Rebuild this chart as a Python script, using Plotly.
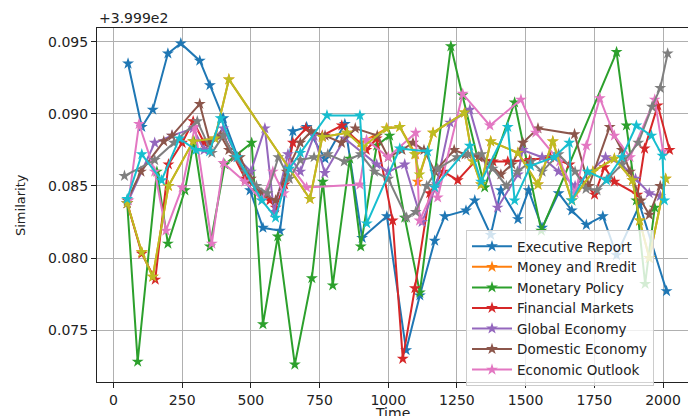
import plotly.graph_objects as go

# offset shown by the axis: +3.999e2
offset_text = "+3.999e2"

names = ["Executive Report", "Money and Rredit", "Monetary Policy", "Financial Markets",
         "Global Economy", "Domestic Economy", "Economic Outlook", "", "", ""]
colors = ["#1f77b4", "#ff7f0e", "#2ca02c", "#d62728", "#9467bd", "#8c564b",
          "#e377c2", "#7f7f7f", "#bcbd22", "#17becf"]

exec_x = [53, 103, 143, 198, 245, 314, 351, 400, 497, 544, 606, 653, 703, 770, 842, 905, 995,
          1065, 1115, 1169, 1206, 1283, 1315, 1373, 1410, 1472, 1511, 1560, 1620, 1668, 1721,
          1781, 1831, 1915, 2013]
exec_y = [.0935, .0891, .0903, .0942, .0949, .0937, .0920, .0897, .0847, .0821, .0819, .0888,
          .0891, .0869, .0893, .0814, .0829, .0736, .0774, .0812, .0829, .0833, .0840, .0816,
          .0847, .0827, .0847, .0821, .0845, .0833, .0823, .0829, .0802, .0837, .0777]

money_x = [50, 103, 143, 200, 290, 369, 420, 715, 760, 850, 900, 995, 1042, 1100, 1107, 1163,
           1278, 1309, 1338, 1373, 1472, 1545, 1599, 1668, 1745, 1823, 1889, 1915, 1950, 2010]
money_y = [.0838, .0804, .0787, .0850, .0881, .0883, .0924, .0841, .0884, .0887, .0880, .0890,
           .0891, .0872, .0853, .0887, .0901, .0867, .0851, .0881, .0873, .0851, .0881, .0840,
           .0860, .0869, .0854, .0826, .0800, .0855]

mon_x = [50, 88, 158, 198, 260, 293, 351, 405, 503, 544, 598, 660, 722, 762, 798, 860, 900,
         958, 1005, 1060, 1115, 1228, 1270, 1351, 1460, 1557, 1831, 1867, 1903, 1935, 1970]
mon_y = [.0838, .0728, .0860, .0810, .0847, .0881, .0808, .0865, .0880, .0754, .0815, .0726,
         .0786, .0853, .0781, .0869, .0808, .0878, .0885, .0828, .0776, .0947, .0913, .0849,
         .0908, .0819, .0943, .0892, .0840, .0782, .0835]

fin_x = [50, 103, 152, 200, 250, 290, 330, 400, 440, 480, 569, 590, 623, 653, 700, 760, 831,
         920, 958, 1016, 1053, 1097, 1151, 1200, 1253, 1330, 1381, 1435, 1515, 1590, 1660,
         1751, 1787, 1823, 1907, 1933, 1981, 2024]
fin_y = [.0838, .0803, .0785, .0865, .0880, .0895, .0880, .0885, .0870, .0855, .0840, .0835,
         .0851, .0880, .0890, .0885, .0892, .0875, .0883, .0826, .0730, .0779, .0845, .0860,
         .0854, .0870, .0867, .0867, .0868, .0870, .0865, .0844, .0863, .0853, .0844, .0876,
         .0906, .0875]

glob_x = [50, 150, 213, 290, 330, 400, 450, 500, 551, 584, 635, 680, 730, 769, 842, 958, 1000,
          1060, 1123, 1176, 1225, 1297, 1398, 1472, 1489, 1560, 1620, 1680, 1791, 1850, 1900,
          1950, 1990]
glob_y = [.0838, .0880, .0885, .0890, .0875, .0890, .0870, .0860, .0890, .0832, .0872, .0860,
          .0885, .0859, .0883, .0865, .0860, .0865, .0825, .0851, .0894, .0903, .0835, .0858,
          .0875, .0870, .0860, .0850, .0870, .0865, .0855, .0845, .0843]

dom_x = [50, 100, 183, 213, 314, 351, 390, 420, 460, 500, 540, 590, 630, 680, 720, 770, 830,
         880, 960, 1000, 1050, 1090, 1130, 1170, 1240, 1280, 1330, 1370, 1410, 1450, 1490,
         1545, 1678, 1730, 1806, 1850, 1880, 1920, 1950, 1990]
dom_y = [.0840, .0860, .0881, .0885, .0907, .0880, .0885, .0875, .0870, .0855, .0845, .0840,
         .0860, .0880, .0888, .0885, .0880, .0890, .0885, .0870, .0875, .0880, .0875, .0860,
         .0875, .0872, .0870, .0865, .0858, .0865, .0880, .0890, .0886, .0850, .0891, .0875,
         .0860, .0840, .0830, .0850]

outl_x = [55, 93, 150, 191, 250, 296, 358, 400, 478, 540, 580, 620, 640, 703, 897, 921, 1000,
          1100, 1114, 1169, 1180, 1271, 1370, 1483, 1537, 1624, 1680, 1721, 1770, 1823, 1880,
          1970, 2000]
outl_y = [.0840, .0893, .0860, .0819, .0849, .0891, .0810, .0866, .0853, .0840, .0860, .0845,
          .0865, .0849, .0851, .0882, .0870, .0887, .0826, .0849, .0842, .0914, .0892, .0910,
          .0887, .0867, .0845, .0878, .0911, .0885, .0870, .0910, .0874]

gray_x = [40, 150, 220, 305, 358, 400, 440, 480, 520, 560, 600, 640, 680, 730, 780, 840, 900,
          950, 1000, 1067, 1100, 1140, 1180, 1250, 1290, 1340, 1380, 1430, 1470, 1520, 1560,
          1620, 1680, 1720, 1760, 1800, 1850, 1910, 1960, 1990, 2017]
gray_y = [.0857, .0868, .0880, .0895, .0873, .0885, .0870, .0860, .0850, .0845, .0870, .0855,
          .0868, .0870, .0872, .0867, .0872, .0860, .0855, .0828, .0832, .0850, .0862, .0870,
          .0872, .0872, .0862, .0850, .0860, .0867, .0860, .0872, .0860, .0848, .0847, .0855,
          .0865, .0880, .0905, .0918, .0942]

olive_x = [50, 103, 143, 200, 290, 369, 420, 715, 760, 850, 907, 993, 1042, 1096, 1114, 1163,
           1278, 1309, 1338, 1373, 1472, 1545, 1599, 1668, 1745, 1823, 1889, 1915, 1950, 2010]
olive_y = [.0838, .0804, .0787, .0850, .0881, .0883, .0924, .0841, .0884, .0887, .0877, .0890,
           .0891, .0872, .0858, .0887, .0901, .0867, .0851, .0881, .0873, .0851, .0881, .0840,
           .0860, .0869, .0854, .0826, .0800, .0855]

cyan_x = [50, 103, 175, 240, 300, 350, 390, 450, 540, 590, 640, 680, 777, 897, 922, 1042, 1143,
          1169, 1297, 1338, 1435, 1460, 1518, 1604, 1659, 1668, 1725, 1794, 1850, 1903, 1958,
          1998, 2005]
cyan_y = [.0841, .0872, .0854, .0883, .0875, .0874, .0897, .0870, .0840, .0828, .0862, .0873,
          .0899, .0899, .0824, .0876, .0874, .0849, .0878, .0853, .0891, .0840, .0864, .0870,
          .0880, .0840, .0860, .0854, .0870, .0892, .0885, .0871, .0840]

series_x = [exec_x, money_x, mon_x, fin_x, glob_x, dom_x, outl_x, gray_x, olive_x, cyan_x]
series_y = [exec_y, money_y, mon_y, fin_y, glob_y, dom_y, outl_y, gray_y, olive_y, cyan_y]

y_ticks = [0.075, 0.080, 0.085, 0.090, 0.095]
x_ticks = [0, 250, 500, 750, 1000, 1250, 1500, 1750, 2000]

FONT = "DejaVu Sans"
fig = go.Figure()
for i in range(10):
    fig.add_trace(go.Scatter(
        x=series_x[i], y=series_y[i], mode="lines+markers",
        name=names[i], showlegend=i < 7,
        line=dict(color=colors[i], width=2),
        marker=dict(symbol="star", size=9, color=colors[i]),
    ))

W, H = 688, 416
L, R, T, B = 97, 0, 28, 34
pw, ph = W - L - R, H - T - B

fig.update_layout(
    width=W, height=H, autosize=False,
    margin=dict(l=L, r=R, t=T, b=B, pad=0),
    paper_bgcolor="white", plot_bgcolor="white",
    font=dict(family=FONT, size=14, color="#222"),
    legend=dict(x=(466 - L) / pw, y=(382 - 230) / ph, xanchor="left", yanchor="top",
                bgcolor="rgba(255,255,255,0.8)", bordercolor="#cccccc", borderwidth=1,
                font=dict(family=FONT, size=13.5, color="#222"), tracegroupgap=0,
                itemwidth=40, entrywidth=170, entrywidthmode="pixels"),
    showlegend=True,
)
fig.update_xaxes(range=[-60, 2091], tickvals=x_ticks, ticktext=[str(v) for v in x_ticks],
                 showgrid=True, gridcolor="#b0b0b0", gridwidth=1,
                 showline=True, linecolor="#222", linewidth=1, mirror=True,
                 ticks="outside", ticklen=5, tickcolor="#222", zeroline=False,
                 tickfont=dict(family=FONT, size=14, color="#222"))
fig.update_yaxes(range=[0.07139, 0.09597], tickvals=y_ticks,
                 ticktext=[f"{v:.3f}" for v in y_ticks],
                 showgrid=True, gridcolor="#b0b0b0", gridwidth=1,
                 showline=True, linecolor="#222", linewidth=1, mirror=False,
                 ticks="outside", ticklen=5, tickcolor="#222", zeroline=False,
                 tickfont=dict(family=FONT, size=14, color="#222"))
fig.add_annotation(text=offset_text, xref="paper", yref="paper", x=0, y=1,
                   xanchor="left", yanchor="bottom", showarrow=False,
                   font=dict(family=FONT, size=14, color="#222"))
fig.add_annotation(text="Similarity", xref="paper", yref="paper", x=(20 - L) / pw, y=0.5,
                   textangle=-90, xanchor="center", yanchor="middle", showarrow=False,
                   font=dict(family=FONT, size=13, color="#222"))
fig.add_annotation(text="Time", xref="paper", yref="paper", x=(392 - L) / pw,
                   y=(382 - 403) / ph, xanchor="center", yanchor="top", showarrow=False,
                   font=dict(family=FONT, size=14, color="#222"))
fig.write_html("out.html", config={"displayModeBar": False},
               post_script="document.body.style.margin='0';"
                           "document.body.style.overflow='hidden';")
